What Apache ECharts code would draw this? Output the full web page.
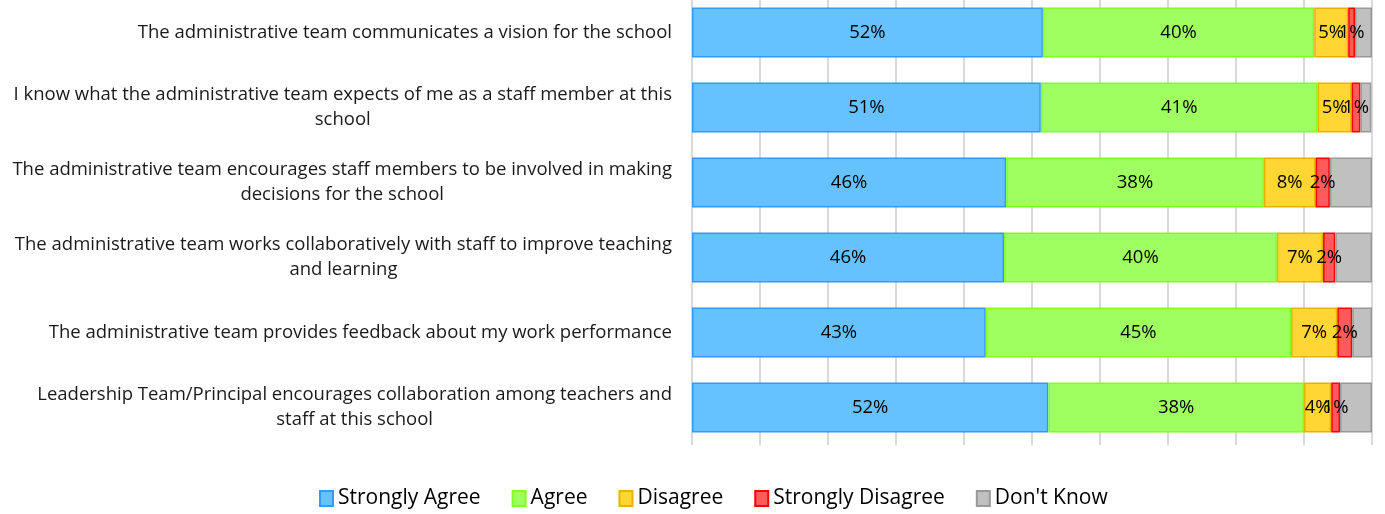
<!DOCTYPE html>
<html>
<head>
<meta charset="utf-8">
<script src="https://cdn.jsdelivr.net/npm/echarts@6/dist/echarts.min.js"></script>
<style>
  html, body { margin: 0; padding: 0; background: #fff; overflow: hidden; }
  #chart { width: 1385px; height: 519px; margin-top: -5px; }
</style>
</head>
<body>
<div id="chart"></div>
<script>
const statements = [
  'The administrative team communicates a vision for the school',
  'I know what the administrative team expects of me as a staff member at this\nschool',
  'The administrative team encourages staff members to be involved in making\ndecisions for the school',
  'The administrative team works collaboratively with staff to improve teaching\nand learning',
  'The administrative team provides feedback about my work performance',
  'Leadership Team/Principal encourages collaboration among teachers and\nstaff at this school'
]

const stronglyAgree = [51.6, 51.3, 46.2, 45.9, 43.2, 52.4]
const agree = [39.9, 40.7, 37.9, 40.1, 44.9, 37.6]
const disagree = [5.0, 5.0, 7.6, 6.8, 6.8, 4.0]
const stronglyDisagree = [1.0, 1.3, 2.1, 1.8, 2.2, 1.3]
const dontKnow = [2.5, 1.6, 6.2, 5.4, 2.9, 4.7]

const FONT = '"Open Sans", sans-serif'

const chart = echarts.init(document.getElementById('chart'))

const mkSeries = (name, data, fill, border, showLabel) => ({
  name, type: 'bar', stack: 'total', data,
  barWidth: 50,
  itemStyle: { color: fill, borderColor: border, borderWidth: 1.5 },
  label: {
    show: showLabel,
    position: 'inside',
    color: '#000',
    fontFamily: FONT,
    fontSize: 18.5,
    formatter: p => Math.round(p.value) + '%'
  },
  emphasis: { disabled: true }
})

chart.setOption({
  animation: false,
  grid: { left: 692, right: 13, top: 0, bottom: 69 },
  legend: {
    bottom: 0,
    left: 314,
    itemWidth: 13,
    itemHeight: 15,
    itemGap: 31,
    icon: 'rect',
    textStyle: { fontFamily: FONT, fontSize: 21, color: '#000' },
    data: ['Strongly Agree', 'Agree', 'Disagree', 'Strongly Disagree', "Don't Know"]
  },
  xAxis: {
    type: 'value',
    min: 0,
    max: 100,
    interval: 10,
    axisLabel: { show: false },
    axisLine: { show: false },
    axisTick: { show: false },
    splitLine: { show: true, lineStyle: { color: '#d9d9d9', width: 2 } }
  },
  yAxis: {
    type: 'category',
    inverse: true,
    data: statements,
    axisLine: { show: false },
    axisTick: { show: false },
    axisLabel: {
      margin: 20,
      align: 'right',
      formatter: v => v.split('\n').map(l => '{c|' + l + '}').join('\n'),
      rich: {
        c: { align: 'center', fontFamily: FONT, fontSize: 18.5, color: '#1a1a1a', lineHeight: 25 }
      }
    }
  },
  series: [
    mkSeries('Strongly Agree', stronglyAgree, '#66c2ff', '#3399ff', true),
    mkSeries('Agree', agree, '#a0ff60', '#80ff20', true),
    mkSeries('Disagree', disagree, '#ffd633', '#e6b400', true),
    mkSeries('Strongly Disagree', stronglyDisagree, '#ff5b5b', '#ff0000', true),
    mkSeries("Don't Know", dontKnow, '#c0c0c0', '#999999', false)
  ]
})
</script>
</body>
</html>
